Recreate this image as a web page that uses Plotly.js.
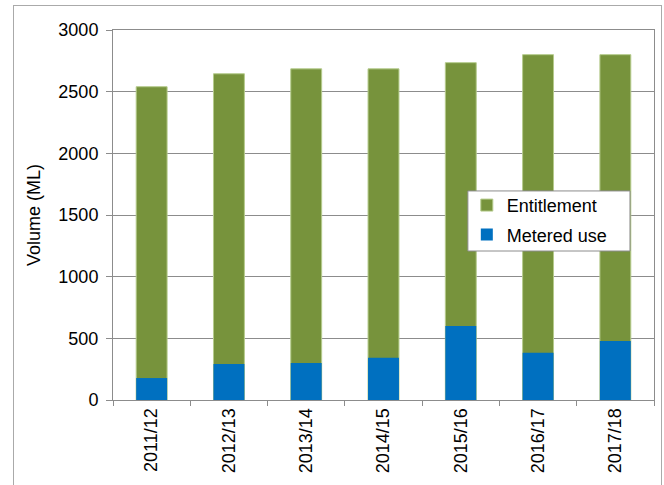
<!DOCTYPE html>
<html>
<head>
<meta charset="utf-8">
<script src="https://cdn.plot.ly/plotly-3.0.1.min.js"></script>
<style>
  html, body { margin: 0; padding: 0; background: #fff; }
  #wrap { position: relative; width: 664px; height: 485px; overflow: hidden; }
  #frame { position: absolute; left: 13px; top: 5px; width: 649px; height: 520px; border: 1px solid #aaaaaa; box-sizing: border-box; pointer-events: none; }
  #chart { position: absolute; left: 0; top: 0; width: 664px; height: 485px; }
</style>
</head>
<body>
<div id="wrap">
  <div id="chart"></div>
  <div id="frame"></div>
</div>
<script>
const categories = ["2011/12", "2012/13", "2013/14", "2014/15", "2015/16", "2016/17", "2017/18"];
const entitlement = [2540, 2645, 2685, 2685, 2735, 2800, 2800];
const meteredUse = [178, 292, 300, 343, 600, 384, 478];
const yTickValues = [0, 500, 1000, 1500, 2000, 2500, 3000];

const font = "Arial, 'Liberation Sans', sans-serif";
const fs = 18;

const traces = [
  {
    type: "bar", name: "Entitlement", x: categories, y: entitlement,
    legendgroup: "a",
    marker: { color: "#77933C", line: { color: "#b5cb8c", width: 1 } },
    hoverinfo: "x+y+name"
  },
  {
    type: "bar", name: "Metered use", x: categories, y: meteredUse,
    legendgroup: "b",
    marker: { color: "#0070C0", line: { color: "#0070C0", width: 0 } },
    hoverinfo: "x+y+name"
  }
];

const layout = {
  width: 664, height: 485,
  margin: { l: 113, r: 10, t: 30, b: 85, pad: 0 },
  paper_bgcolor: "rgba(0,0,0,0)",
  plot_bgcolor: "#ffffff",
  barmode: "overlay",
  bargap: 0.6,
  font: { family: font, size: fs, color: "#000000" },
  showlegend: true,
  legend: {
    x: 0.654, y: 0.576, xanchor: "left", yanchor: "top",
    bgcolor: "rgba(0,0,0,0)", borderwidth: 0,
    font: { family: font, size: fs, color: "#000000" },
    traceorder: "grouped", tracegroupgap: 3
  },
  shapes: [
    {
      type: "rect", xref: "paper", yref: "paper",
      x0: 0.656, x1: 0.9556, y0: 0.4027, y1: 0.565,
      fillcolor: "#ffffff", line: { color: "#8c8c8c", width: 1 }, layer: "above"
    }
  ],
  xaxis: {
    type: "category",
    showline: true, linecolor: "#8c8c8c", linewidth: 1, mirror: true,
    ticks: "outside", ticklen: 5, tickcolor: "#8c8c8c", tickson: "boundaries",
    tickangle: -90,
    tickfont: { family: font, size: fs, color: "#000000" },
    showgrid: false, zeroline: false, automargin: false
  },
  yaxis: {
    range: [0, 3000],
    tickvals: yTickValues,
    ticktext: yTickValues.map(String),
    showline: true, linecolor: "#8c8c8c", linewidth: 1, mirror: true,
    ticks: "outside", ticklen: 6, tickcolor: "#8c8c8c",
    ticklabelstandoff: 4,
    showgrid: true, gridcolor: "#8c8c8c", gridwidth: 1,
    zeroline: false, automargin: false,
    tickfont: { family: font, size: fs, color: "#000000" },
    title: { text: "Volume (ML)", font: { family: font, size: fs, color: "#000000" }, standoff: 13 }
  }
};

Plotly.newPlot("chart", traces, layout, { displayModeBar: false, staticPlot: true });
</script>
</body>
</html>
